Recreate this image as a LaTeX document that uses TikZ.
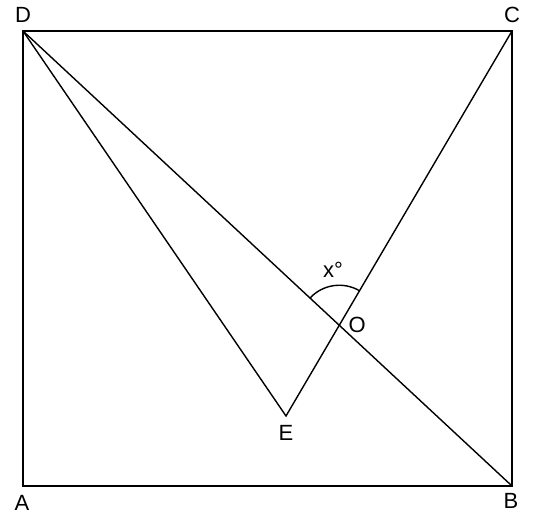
\documentclass[tikz,border=0pt]{standalone}
\usepackage{fontspec}
\setmainfont{Liberation Sans}
\usetikzlibrary{angles,calc}

\begin{document}
\begin{tikzpicture}[x=1pt,y=1pt]
	\tikzset{seg/.style={line width=1.4pt, line join=miter},
		lbl/.style={font=\fontsize{22}{26}\selectfont, inner sep=0pt}}
	\useasboundingbox (0,0) rectangle (537,518);
	
	\coordinate (A) at (23,32);
	\coordinate (B) at (512,32);
	\coordinate (C) at (512,487);
	\coordinate (D) at (23,487);
	\coordinate (E) at (286,102);
	\coordinate (O) at (intersection of D--B and C--E);
	
	\draw[seg] (A) -- (B) -- (C) -- (D) -- cycle;
	\draw[seg] (D) -- (B);
	\draw[seg] (D) -- (E) -- (C);
	\pic[draw, line width=1.4pt, angle radius=40pt] {angle = C--O--D};
	
	\node[lbl] (lD) at (23,503) {D};
	\node[lbl] (lC) at (512,503) {C};
	\node[lbl] (lA) at (22,15) {A};
	\node[lbl] (lB) at (511,17) {B};
	\node[lbl] (lE) at (286,85) {E};
	\node[lbl] (lO) at ($(O)+(18,0)$) {O};
	\node[lbl] (lx) at (333,248) {x°};
\end{tikzpicture}
\end{document}
